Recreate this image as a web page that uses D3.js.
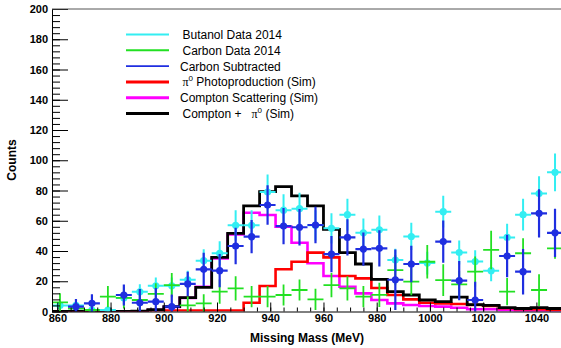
<!DOCTYPE html>
<html>
<head>
<meta charset="utf-8">
<script src="https://cdn.jsdelivr.net/npm/d3@7"></script>
<style>
body { margin: 0; background: #fff; }
svg { display: block; font-family: "Liberation Sans", Arial, sans-serif; }
</style>
</head>
<body>
<svg id="chart"></svg>
<script>
// bin centres of the missing mass histogram (MeV), 6 MeV wide bins
let massBins = [861, 867, 873, 879, 885, 891, 897, 903, 909, 915, 921, 927, 933, 939, 945, 951,
                957, 963, 969, 975, 981, 987, 993, 999, 1005, 1011, 1017, 1023, 1029, 1035, 1041, 1047];
let binWidth = 6;

// data points (value, error)
let butanol = [4, 4, 1, 1, 9, 13, 17, 17, 21, 33.6, 38.5, 57, 57, 79, 67, 68,
               57, 55, 64, 52, 54, 34, 49.6, 32, 66, 39, 33, 27, 49, 64, 78, 92];
let butanolErr = [3, 3, 1.5, 1.5, 4, 5, 5.5, 5.5, 6, 7.5, 8, 10, 10, 11.5, 10.5, 10.5,
                  10, 10, 10.5, 9.5, 9.5, 7.5, 9, 7.5, 10.5, 8, 7.5, 7, 9, 10.5, 11.5, 12.5];
let carbon = [6, 2, 1, 9.8, 9, 7.6, 11.6, 17.5, 4, 5.4, 13.1, 15.3, 9.8, 9.8, 10.9, 14.2,
              8, 17.5, 15.3, 9.8, 11, 27.4, 19.7, 32.9, 20.8, 18, 26.3, 40.7, 13.1, 38.5, 14.2, 41.8];
let carbonErr = [6, 5, 4, 7, 7, 7, 7, 8, 6, 6, 8, 8, 7, 7, 7, 7,
                 7, 8, 8, 7, 8, 10, 9, 11, 10.5, 9, 10, 12.7, 9, 10, 10.5, 7];
let subtracted = [-6, 3.2, 5.4, -8, 10.9, 5.8, 6.5, 3.2, 18.2, 27.9, 27, 43.3, 49.5, 70.4, 56.5, 55.7,
                  57.2, 38, 49, 41.3, 41.8, 21, 31.4, -15, 46.2, 20.4, 7.6, -14, 36.7, 26.3, 64.9, 52];
let subtractedErr = [4, 5, 6, 7, 7, 9, 9, 8, 8, 11, 11, 12, 11, 13, 12, 12,
                     12, 12, 12, 11, 12, 20, 12, 12, 14, 13, 12, 13, 14, 15, 16, 16];

// simulated histograms
let pi0Sim = [0, 0, 0, 0, 0, 0, 0.7, 0.7, 0.7, 0.7, 0.7, 0.7, 5.8, 16.9, 27.9, 32.9,
              38.9, 35.8, 23.5, 21.9, 15.5, 10.9, 8, 5.8, 5.4, 5, 4.3, 3.6, 2.1, 1.5, 1.5, 1.2];
let comptonSim = [0, 0, 0, 0, 0, 0, 1, 3, 9, 16.4, 35, 51, 65.3, 63.8, 56, 45.5,
                  31.9, 23.5, 16.4, 12, 7.6, 5.4, 4.3, 3.6, 3.2, 2.5, 1.5, 1.5, 0.8, 0.5, 0.5, 0.3];
let totalSim = [0, 0, 0, 0, 0, 0.3, 1.2, 3.2, 9.2, 16, 35.8, 51.7, 69.8, 79.2, 82.5, 76.4,
                69.8, 54.3, 38.9, 31.4, 21.3, 13.1, 10.9, 7.6, 6.5, 9.5, 4.5, 4, 2.5, 2, 2.5, 2];

let xTicks = [860, 880, 900, 920, 940, 960, 980, 1000, 1020, 1040];
let yTicks = [0, 20, 40, 60, 80, 100, 120, 140, 160, 180, 200];

let legendLabels = ["Butanol Data 2014", "Carbon Data 2014", "Carbon Subtracted",
                    "π^0 Photoproduction (Sim)", "Compton Scattering (Sim)", "Compton +   π^0 (Sim)"];

let width = 561;
let height = 348;
let svg = d3.select("#chart").attr("width", width).attr("height", height);

let xScale = d3.scaleLinear().domain([858, 1050]).range([52, 563]);
let yScale = d3.scaleLinear().domain([0, 200]).range([311.5, 9]);

svg.append("clipPath").attr("id", "plotClip")
   .append("rect")
   .attr("x", 52).attr("y", 9)
   .attr("width", 511).attr("height", 302.5);

let plot = svg.append("g").attr("clip-path", "url(#plotClip)");

// histograms as step lines
const drawHist = (vals, color, lw) => {
  let pts = massBins.map((c, i) => [c - binWidth / 2, vals[i]]);
  pts.push([massBins[massBins.length - 1] + binWidth / 2, vals[vals.length - 1]]);
  let line = d3.line()
               .x(d => xScale(d[0]))
               .y(d => yScale(d[1]))
               .curve(d3.curveStepAfter);
  plot.append("path")
      .attr("d", line(pts))
      .attr("fill", "none")
      .attr("stroke", color)
      .attr("stroke-width", lw);
}

drawHist(comptonSim, "#ff00ff", 2.6);
drawHist(pi0Sim, "#ff0000", 2.6);
drawHist(totalSim, "#000000", 2.8);

// data points with error crosses
const drawPoints = (vals, errs, color, lw, marker) => {
  let g = plot.append("g");
  g.selectAll(".vbar").data(vals).enter().append("line")
   .attr("x1", (d, i) => xScale(massBins[i]))
   .attr("x2", (d, i) => xScale(massBins[i]))
   .attr("y1", (d, i) => yScale(d - errs[i]))
   .attr("y2", (d, i) => yScale(d + errs[i]))
   .attr("stroke", color).attr("stroke-width", lw);
  g.selectAll(".hbar").data(vals).enter().append("line")
   .attr("x1", (d, i) => xScale(massBins[i] - binWidth / 2))
   .attr("x2", (d, i) => xScale(massBins[i] + binWidth / 2))
   .attr("y1", d => yScale(d))
   .attr("y2", d => yScale(d))
   .attr("stroke", color).attr("stroke-width", lw);
  if (marker) {
    g.selectAll("circle").data(vals).enter().append("circle")
     .attr("cx", (d, i) => xScale(massBins[i]))
     .attr("cy", d => yScale(d))
     .attr("r", 3.6)
     .attr("fill", color);
  }
}

drawPoints(butanol, butanolErr, "#33eef2", 2, true);
drawPoints(carbon, carbonErr, "#22e022", 1.8, false);
drawPoints(subtracted, subtractedErr, "#1f2ee0", 2.2, true);

// axes
const styleAxis = (g) => {
  g.attr("font-family", "Liberation Sans, Arial, sans-serif")
   .attr("font-size", 11)
   .attr("font-weight", "bold");
  g.selectAll("path").attr("stroke", "#000");
  g.selectAll("line").attr("stroke", "#000");
}

svg.append("g")
   .attr("transform", "translate(52,0)")
   .call(d3.axisLeft(yScale).tickValues(d3.range(0, 201, 4)).tickSize(-8).tickSizeOuter(0).tickFormat(""))
   .call(g => g.select(".domain").remove())
   .call(styleAxis);

svg.append("g")
   .attr("transform", "translate(52,0)")
   .call(d3.axisLeft(yScale).tickValues(yTicks).tickSize(-16).tickSizeOuter(0).tickPadding(4).tickFormat(d3.format("d")))
   .call(styleAxis)
   .call(g => g.selectAll("text").attr("fill", "#000"));

svg.append("g")
   .attr("transform", "translate(0,311.5)")
   .call(d3.axisBottom(xScale).tickValues(d3.range(860, 1050, 5)).tickSize(-4).tickSizeOuter(0).tickFormat(""))
   .call(g => g.select(".domain").remove())
   .call(styleAxis);

svg.append("g")
   .attr("transform", "translate(0,311.5)")
   .call(d3.axisBottom(xScale).tickValues(xTicks).tickSize(-9).tickSizeOuter(0).tickPadding(3).tickFormat(d3.format("d")))
   .call(styleAxis)
   .call(g => g.selectAll("text").attr("fill", "#000"));

// top frame
svg.append("line")
   .attr("x1", 52).attr("x2", 563)
   .attr("y1", 9).attr("y2", 9)
   .attr("stroke", "#555").attr("stroke-width", 1);

// axis titles
svg.append("text")
   .attr("x", 307).attr("y", 342)
   .attr("text-anchor", "middle")
   .attr("font-size", 12).attr("font-weight", "bold")
   .text("Missing Mass (MeV)");

svg.append("text")
   .attr("transform", "translate(16,160) rotate(-90)")
   .attr("text-anchor", "middle")
   .attr("font-size", 12).attr("font-weight", "bold")
   .text("Counts");

// legend
let legendColors = ["#33eef2", "#22e022", "#1f2ee0", "#ff0000", "#ff00ff", "#000000"];
let legendWidths = [2, 2, 1.8, 3, 3, 3];
let legend = svg.append("g");
legendLabels.forEach((label, i) => {
  let ly = 34.5 + i * 15.8;
  legend.append("line")
        .attr("x1", 126).attr("x2", 169)
        .attr("y1", ly).attr("y2", ly)
        .attr("stroke", legendColors[i])
        .attr("stroke-width", legendWidths[i]);
  let t = legend.append("text")
                .attr("x", i === 2 || i === 4 ? 180 : 182.5)
                .attr("y", ly + 4.5)
                .attr("font-size", 12)
                .style("white-space", "pre");
  let shift = 0;
  label.split(/(π\^0)/).forEach(part => {
    if (part === "π^0") {
      t.append("tspan").attr("dy", shift).attr("font-family", "Liberation Serif, serif").text("π");
      t.append("tspan").attr("font-size", 8).attr("dy", -5).text("0");
      shift = 5;
    } else if (part.length) {
      t.append("tspan").attr("dy", shift).text(part);
      shift = 0;
    }
  });
});
</script>
</body>
</html>
